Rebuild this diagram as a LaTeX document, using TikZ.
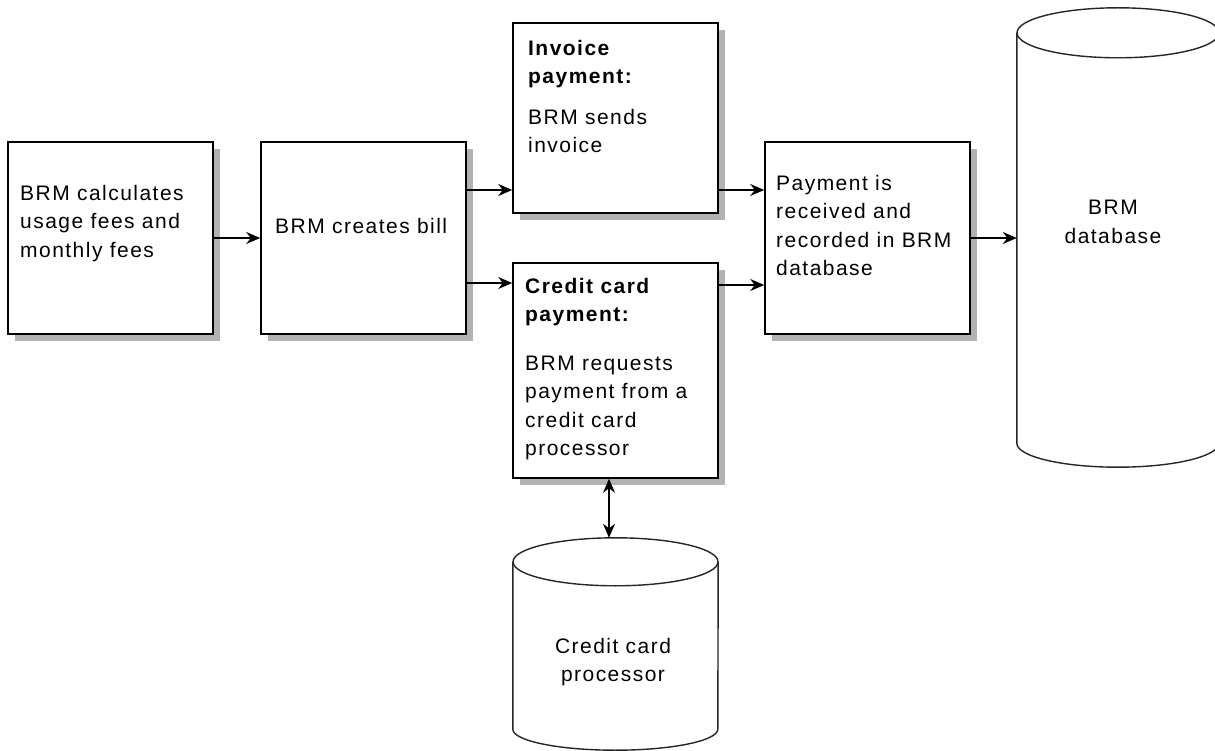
\documentclass[tikz,border=0pt]{standalone}
\usepackage{fontspec}
\setmainfont{Liberation Sans}[LetterSpace=7]
\usetikzlibrary{arrows.meta,shadows,calc}
\begin{document}
\begin{tikzpicture}[x=1pt,y=-1pt,
  box/.style={draw, line width=1.6pt, fill=white, inner sep=0pt,
    drop shadow={shadow xshift=7pt, shadow yshift=-7pt, fill=black!30, opacity=1}},
  lbl/.style={inner sep=0pt, font=\fontsize{21pt}{28.5pt}\selectfont},
  arr/.style={line width=1.4pt, -{Stealth[length=14pt,width=12pt]}},
  dbl/.style={line width=1.4pt, {Stealth[length=14pt,width=12pt]}-{Stealth[length=14pt,width=12pt]}},
  cyl/.style={line width=1.4pt, draw=black!85},
  hold/.style={inner sep=0pt, draw=none}]
\useasboundingbox (0,0) rectangle (1215,751);
\clip (0,0) rectangle (1215,751);
\fill[white] (0,0) rectangle (1215,751);

% boxes
\node[box, minimum width=205pt, minimum height=192pt] (b1) at (110.5,238) {};
\node[box, minimum width=205pt, minimum height=192pt] (b2) at (363.5,238) {};
\node[box, minimum width=205pt, minimum height=190pt] (inv) at (615.5,118) {};
\node[box, minimum width=205pt, minimum height=215pt] (cc) at (615.5,370.5) {};
\node[box, minimum width=205pt, minimum height=192pt] (pay) at (867.5,238) {};

% cylinder holders
\node[hold, minimum width=202pt, minimum height=410pt] (db) at (1118,238) {};
\node[hold, minimum width=205pt, minimum height=167pt] (ccp) at (615.5,645.5) {};

% cylinders
\draw[cyl] (db.north west) -- (db.south west)
  arc[start angle=180, end angle=360, x radius=101pt, y radius=24pt] -- (db.north east);
\draw[cyl] (db.north) ellipse[x radius=101pt, y radius=25pt];
\draw[cyl] (ccp.north west) -- (ccp.south west)
  arc[start angle=180, end angle=360, x radius=102.5pt, y radius=21pt] -- (ccp.north east);
\draw[cyl] (ccp.north) ellipse[x radius=102.5pt, y radius=24pt];

% texts
\node[lbl, anchor=north west, align=left] (t1) at (20,185)
  {BRM calculates\\usage fees and\\monthly fees};
\node[lbl, anchor=north west, align=left] (t2) at (275,218) {BRM creates bill};
\node[lbl, anchor=north west, align=left] (t3) at (528,40)
  {\textbf{Invoice}\\\textbf{payment:}\\[12pt]BRM sends\\invoice};
\node[lbl, anchor=north west, align=left] (t4) at (525,278)
  {\textbf{Credit card}\\\textbf{payment:}\\[20pt]BRM requests\\payment from a\\credit card\\processor};
\node[lbl, anchor=north west, align=left] (t5) at (776,175)
  {Payment is\\received and\\recorded in BRM\\database};
\node[lbl, anchor=north, align=center] (t6) at (1113,200) {BRM\\database};
\node[lbl, anchor=north, align=center] (t7) at (613,638) {Credit card\\processor};

% connectors
\draw[arr] (b1.east) -- (b2.west);
\draw[arr] ([yshift=48pt]b2.east) -- ([yshift=-72pt]inv.west);
\draw[arr] ([yshift=-45pt]b2.east) -- ([yshift=87.5pt]cc.west);
\draw[arr] ([yshift=-72pt]inv.east) -- ([yshift=48pt]pay.west);
\draw[arr] ([yshift=85.5pt]cc.east) -- ([yshift=-47pt]pay.west);
\draw[arr] (pay.east) -- (db.west);
\draw[dbl] ([xshift=-6.5pt]cc.south) -- ([xshift=-6.5pt,yshift=24pt]ccp.north);
\end{tikzpicture}
\end{document}
